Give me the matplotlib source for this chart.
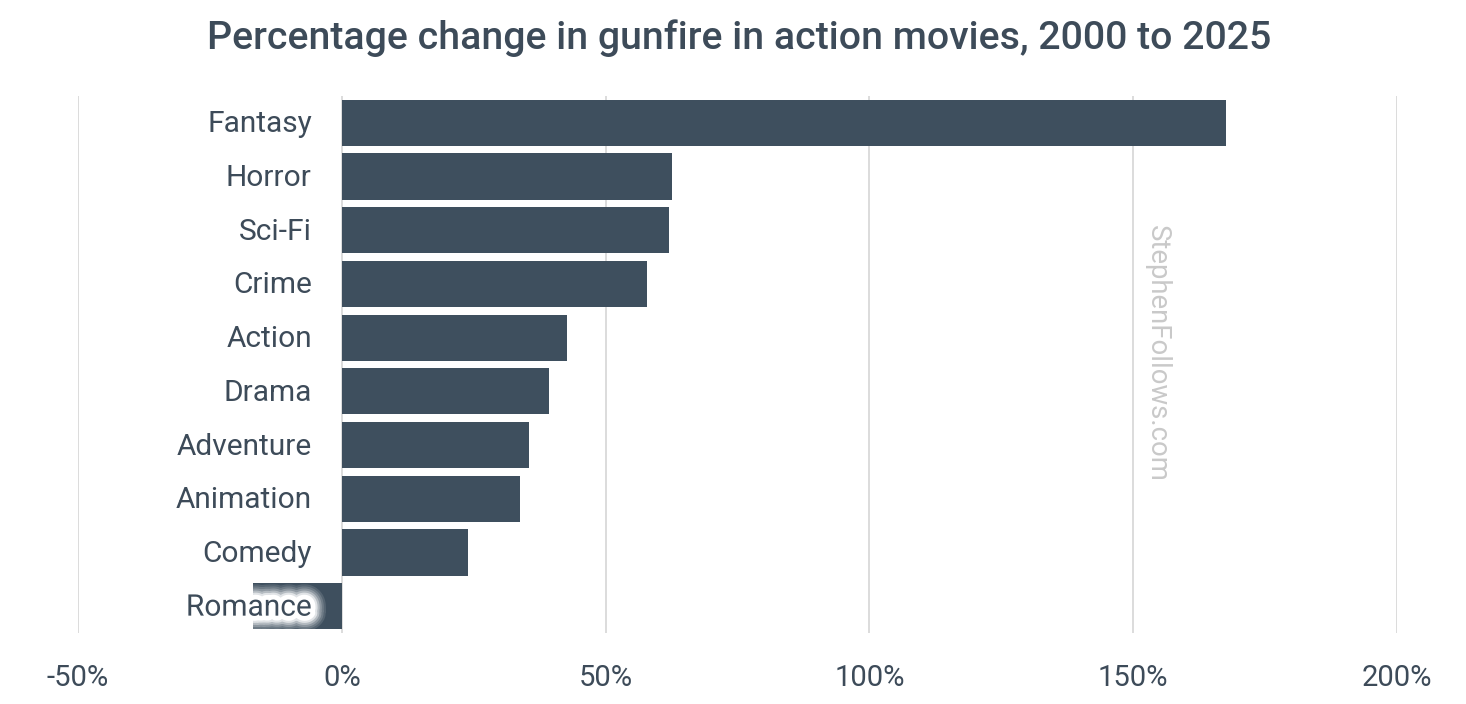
import matplotlib
matplotlib.use("Agg")
from matplotlib import pyplot as plt
from matplotlib import patheffects, transforms

genres = ["Fantasy", "Horror", "Sci-Fi", "Crime", "Action", "Drama",
          "Adventure", "Animation", "Comedy", "Romance"]
pct_change = [167.5, 62.5, 62.1, 57.8, 42.6, 39.2, 35.4, 33.7, 23.9, -16.9]
xticks = [-50, 0, 50, 100, 150, 200]

BAR = "#3e4f5e"
TEXT = "#3d4b59"
GRID = "#d9d9d9"

plt.rcParams["font.family"] = ["Roboto", "DejaVu Sans"]

fig = plt.figure(figsize=(14.66, 7.04), dpi=100)
ax = fig.add_axes([78 / 1466, 1 - 633 / 704, (1397 - 78) / 1466, (633 - 96) / 704])

ypos = list(range(len(genres)))
ax.barh(ypos, pct_change, height=0.86, color=BAR, zorder=2)

ax.set_xlim(-50, 200)
ax.set_ylim(len(genres) - 0.5, -0.5)
ax.set_xticks(xticks)
ax.set_xticklabels([f"{t}%" for t in xticks], fontsize=21, color=TEXT)
ax.tick_params(axis="x", length=0, pad=22)
ax.set_yticks([])
ax.grid(axis="x", color=GRID, linewidth=1.3, zorder=0)
for s in ax.spines.values():
    s.set_visible(False)

# category labels sit just left of the zero line
lab_tr = transforms.offset_copy(ax.transData, fig=fig, x=-30, y=-1.5, units="dots")
for i, g in enumerate(genres):
    t = ax.text(0, i, g, ha="right", va="center", fontsize=21.5, color=TEXT,
                transform=lab_tr, zorder=4)
    if pct_change[i] < 0:
        # soft white glow over the bar
        t.set_path_effects([
            patheffects.withStroke(linewidth=w, foreground="white", alpha=a)
            for w, a in [(22, 0.12), (19, 0.15), (16, 0.22), (13, 0.35), (10, 0.6), (7, 1.0)]
        ])

# watermark
ax.text(1157 / 1466, 1 - 353 / 704, "StephenFollows.com", transform=fig.transFigure,
        rotation=-90, ha="center", va="center", fontsize=19.8, color="#c9c9c9", zorder=3)

fig.text(739 / 1466, 1 - 38 / 704, "Percentage change in gunfire in action movies, 2000 to 2025",
         ha="center", va="center", fontsize=28.3, color=TEXT, fontweight="medium")

plt.savefig("out.png", dpi=100)
